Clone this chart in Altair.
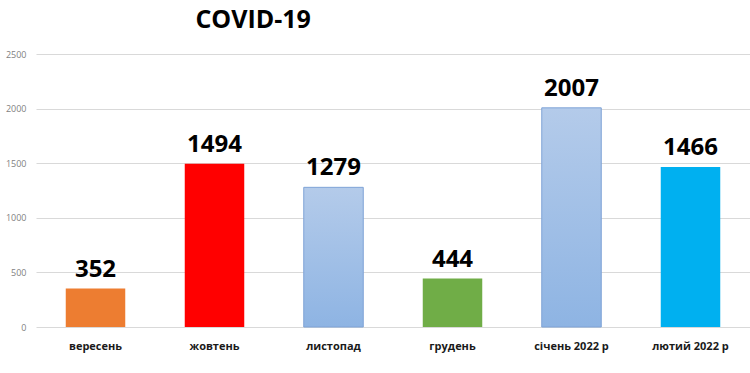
import altair as alt
import pandas as pd

months = ["вересень", "жовтень", "листопад", "грудень", "січень 2022 р", "лютий 2022 р"]
cases = [352, 1494, 1279, 444, 2007, 1466]
fills = ["#ED7D31", "#FF0000", "gradient", "#70AD47", "gradient", "#00B0F0"]

df = pd.DataFrame({"month": months, "cases": cases, "fill": fills})

x = alt.X("month:N", sort=months, title=None,
          scale=alt.Scale(paddingInner=0.5, paddingOuter=0.25),
          axis=alt.Axis(labelAngle=0, labelFont="Open Sans", labelFontWeight="bold",
                        labelFontSize=11, labelColor="#1a1a1a", labelPadding=13,
                        domain=False, ticks=False))
y = alt.Y("cases:Q", title=None,
          scale=alt.Scale(domain=[0, 2500]),
          axis=alt.Axis(values=[0, 500, 1000, 1500, 2000, 2500], format="d",
                        labelFont="Open Sans", labelFontSize=9, labelColor="#7f7f7f",
                        labelPadding=10, domain=False, ticks=False, gridColor="#d9d9d9"))

base = alt.Chart(df)

solid = base.transform_filter(alt.datum.fill != "gradient").mark_bar().encode(
    x=x, y=y,
    color=alt.Color("fill:N", scale=None, legend=None),
)

grad = base.transform_filter(alt.datum.fill == "gradient").mark_bar(
    color=alt.Gradient(
        gradient="linear", x1=0, x2=0, y1=0, y2=1,
        stops=[alt.GradientStop(color="#B4CBEA", offset=0),
               alt.GradientStop(color="#8EB4E3", offset=1)]),
    stroke="#7FA3D6", strokeWidth=1,
).encode(x=x, y=y)

labels = base.mark_text(font="Open Sans", fontWeight="bold", fontSize=24,
                        color="#000000", baseline="bottom", dy=-7).encode(
    x=x, y=y, text=alt.Text("cases:Q", format="d"))

chart = alt.layer(solid, grad, labels).properties(
    width=714, height=273,
    title=alt.TitleParams("COVID-19", font="Open Sans", fontSize=25, fontWeight="bold",
                          color="#000000", anchor="start", dx=190, offset=17),
    autosize=alt.AutoSizeParams(type="none"),
    padding={"left": 36, "top": 54, "right": 0, "bottom": 46},
).configure_view(stroke=None)

chart.save("out.html", embed_options={"renderer": "svg", "actions": False})
